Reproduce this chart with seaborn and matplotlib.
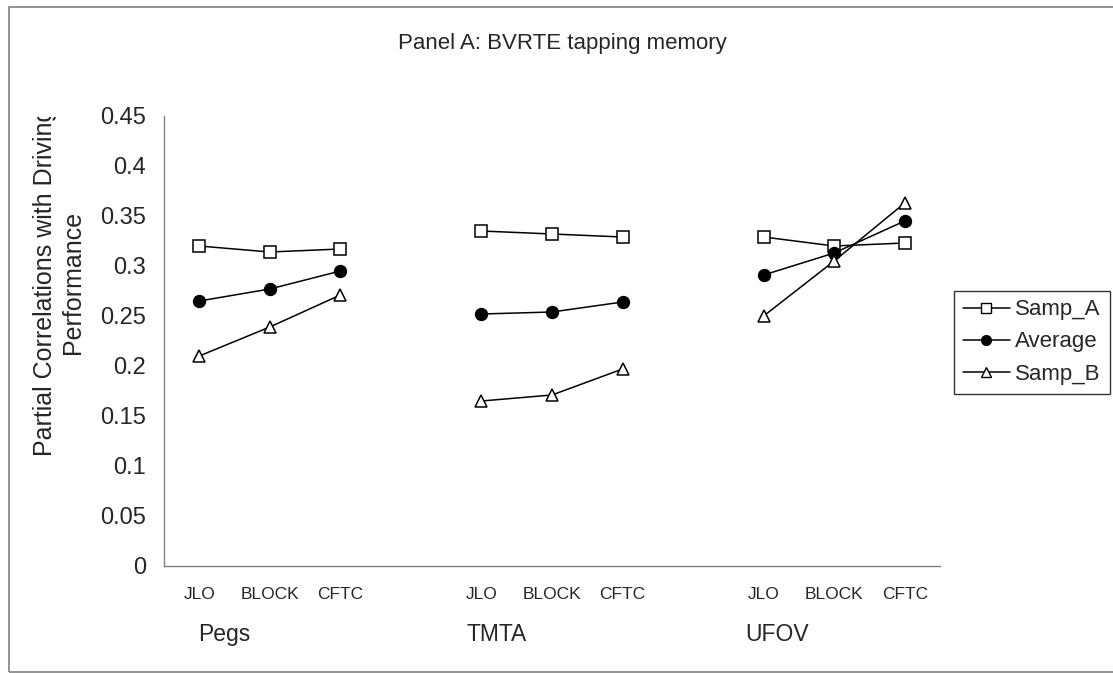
import matplotlib
matplotlib.use("Agg")
import matplotlib.pyplot as plt
from matplotlib.lines import Line2D
from matplotlib.patches import Rectangle
from matplotlib.transforms import Bbox, TransformedBbox, blended_transform_factory
import numpy as np
import pandas as pd
import seaborn as sns

sns.set_style("white")
plt.rcParams['font.family'] = ['Liberation Sans', 'DejaVu Sans']

# data
groups = ["Pegs", "TMTA", "UFOV"]
measures = ["JLO", "BLOCK", "CFTC"]
samp_a = [[0.320, 0.314, 0.317], [0.335, 0.332, 0.329], [0.329, 0.320, 0.323]]
average = [[0.265, 0.277, 0.295], [0.252, 0.254, 0.264], [0.291, 0.313, 0.345]]
samp_b = [[0.210, 0.239, 0.271], [0.165, 0.171, 0.197], [0.250, 0.305, 0.363]]
yticks = [0, 0.05, 0.1, 0.15, 0.2, 0.25, 0.3, 0.35, 0.4, 0.45]

series = {"Samp_A": samp_a, "Average": average, "Samp_B": samp_b}
styles = {
    "Samp_A": dict(marker="s", markerfacecolor="white", markersize=8),
    "Average": dict(marker="o", markerfacecolor="black", markersize=8.5),
    "Samp_B": dict(marker="^", markerfacecolor="white", markersize=9),
}

# one blank category between groups, like the excel chart
slot = len(measures) + 1
rows = []
for name, vals in series.items():
    for g, grp in enumerate(groups):
        for j, m in enumerate(measures):
            rows.append(dict(series=name, group=grp, measure=m,
                             pos=g * slot + j, value=vals[g][j]))
df = pd.DataFrame(rows)

W, H = 1113, 673
fig = plt.figure(figsize=(W / 100, H / 100), dpi=100)
ax = fig.add_axes([164 / W, 1 - 566 / H, (940 - 164) / W, 450 / H])

for name in series:
    for grp in groups:
        sub = df[(df.series == name) & (df.group == grp)]
        sns.lineplot(data=sub, x="pos", y="value", ax=ax, color="black",
                     linewidth=1.1, markeredgecolor="black", markeredgewidth=1.1,
                     legend=False, **styles[name])

n_cat = len(groups) * slot - 1
labels = []
for g in range(len(groups)):
    labels += measures + ([""] if g < len(groups) - 1 else [])

ax.set_xlim(-0.5, n_cat - 0.5)
ax.set_ylim(0, 0.45)
ax.set_yticks(yticks)
ax.set_yticklabels([f"{v:g}" for v in yticks], fontsize=17)
ax.set_xticks(range(n_cat))
ax.set_xticklabels(labels, fontsize=12.5)
ax.set_xticks(np.arange(-0.5, n_cat, 1.0), minor=True)
ax.tick_params(axis="x", which="major", length=0, pad=15)
ax.tick_params(axis="x", which="minor", length=6, color="#808080", direction="out")
ax.tick_params(axis="y", length=7, color="#808080", direction="out", pad=6)
ax.set_xlabel("")
ax.set_ylabel("")
for s in ["top", "right"]:
    ax.spines[s].set_visible(False)
for s in ["left", "bottom"]:
    ax.spines[s].set_color("#808080")
    ax.spines[s].set_linewidth(1)

# group names under the measures
tr = blended_transform_factory(ax.transData, ax.transAxes)
group_x = [0.35, 4.22, 8.19]
for gx, grp in zip(group_x, groups):
    ax.text(gx, -0.153, grp, transform=tr, ha="center", va="center", fontsize=16.5)

fig.text(562 / W, 1 - 43 / H, "Panel A: BVRTE tapping memory", ha="center", va="center", fontsize=16)

# axis title is cut off at the top like in the original
ylab = fig.text(59 / W, 1 - 282 / H, "Partial Correlations with Driving\nPerformance",
                rotation=90, ha="center", va="center", multialignment="center", fontsize=18)
ylab.set_clip_box(TransformedBbox(Bbox.from_extents(0, 0, 1, 1 - 117 / H), fig.transFigure))
ylab.set_clip_on(True)

handles = [Line2D([], [], color="black", linewidth=1.1, markeredgecolor="black",
                  markeredgewidth=1, **dict(styles[n], markersize=7)) for n in series]
leg = fig.legend(handles, list(series), loc="center",
                 bbox_to_anchor=(1032 / W, 1 - 342 / H), bbox_transform=fig.transFigure,
                 fontsize=16, frameon=True, fancybox=False, handlelength=2.1,
                 handletextpad=0.25, labelspacing=0.5, borderpad=0.4, borderaxespad=0)
leg.get_frame().set_edgecolor("black")
leg.get_frame().set_linewidth(1)

fig.patches.append(Rectangle((9 / W, 1 / H), (W + 10) / W, (H - 8) / H, transform=fig.transFigure,
                             fill=False, edgecolor="#808080", linewidth=1.2))

fig.savefig("out.png", dpi=100)
